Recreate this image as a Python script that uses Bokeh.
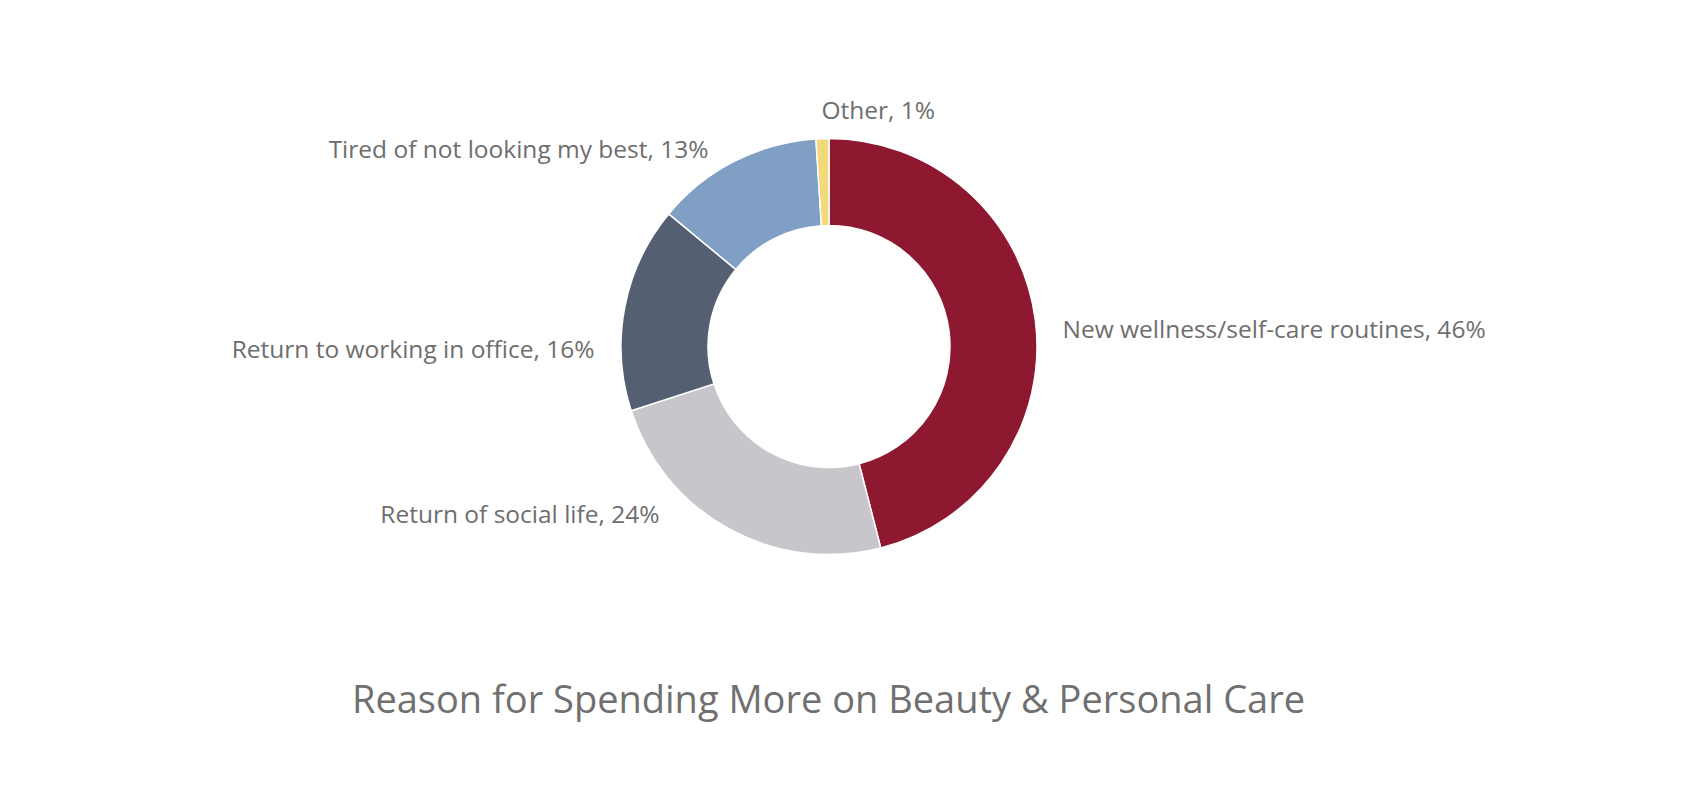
import math
from bokeh.plotting import figure
from bokeh.models import Range1d, ColumnDataSource
from bokeh.core.properties import value
from bokeh.embed import file_html
from bokeh.resources import INLINE

# ---- data ----
categories = ["New wellness/self-care routines", "Return of social life",
              "Return to working in office", "Tired of not looking my best", "Other"]
shares = [46, 24, 16, 13, 1]
colors = ["#8E1830", "#C8C6CA", "#546072", "#7F9FC4", "#F2D97A"]
title_text = "Reason for Spending More on Beauty & Personal Care"

# label anchors (screen px) and alignment
label_x = [1062, 659, 594, 708, 821]
label_y = [328, 513, 348, 148, 109]
label_align = ["left", "right", "right", "right", "left"]

W, H = 1684, 784
p = figure(width=W, height=H, output_backend="svg", toolbar_location=None,
           x_range=Range1d(0, W), y_range=Range1d(800 - H, 800),
           min_border=0)
p.axis.visible = False
p.grid.visible = False
p.outline_line_color = None
p.background_fill_color = "white"
p.border_fill_color = "white"

cx, cy = 828.5, 800 - 346
r_out, r_in = 208, 121

total = sum(shares)
starts, ends = [], []
cum = 0.0
for s in shares:
    a0 = math.pi / 2 - 2 * math.pi * (cum + s) / total
    a1 = math.pi / 2 - 2 * math.pi * cum / total
    starts.append(a0)
    ends.append(a1)
    cum += s

src = ColumnDataSource(dict(start=starts, end=ends, color=colors,
                            x=[cx] * len(shares), y=[cy] * len(shares)))
p.annular_wedge(x="x", y="y", inner_radius=r_in, outer_radius=r_out,
                start_angle="start", end_angle="end", fill_color="color",
                line_color="white", line_width=1.5, source=src)

labels = [f"{c}, {s}%" for c, s in zip(categories, shares)]
for t, lx, ly, al in zip(labels, label_x, label_y, label_align):
    p.text(x=[lx], y=[800 - ly], text=[t], text_align=al, text_baseline="alphabetic",
           text_font=value("Open Sans"), text_font_size="24.5px", text_color="#6E6E6E")

p.text(x=[828], y=[800 - 697], text=[title_text], text_align="center",
       text_baseline="alphabetic", text_font=value("Open Sans"), text_font_size="38px",
       text_color="#707070")

open("out.html", "w").write(file_html(p, INLINE))
